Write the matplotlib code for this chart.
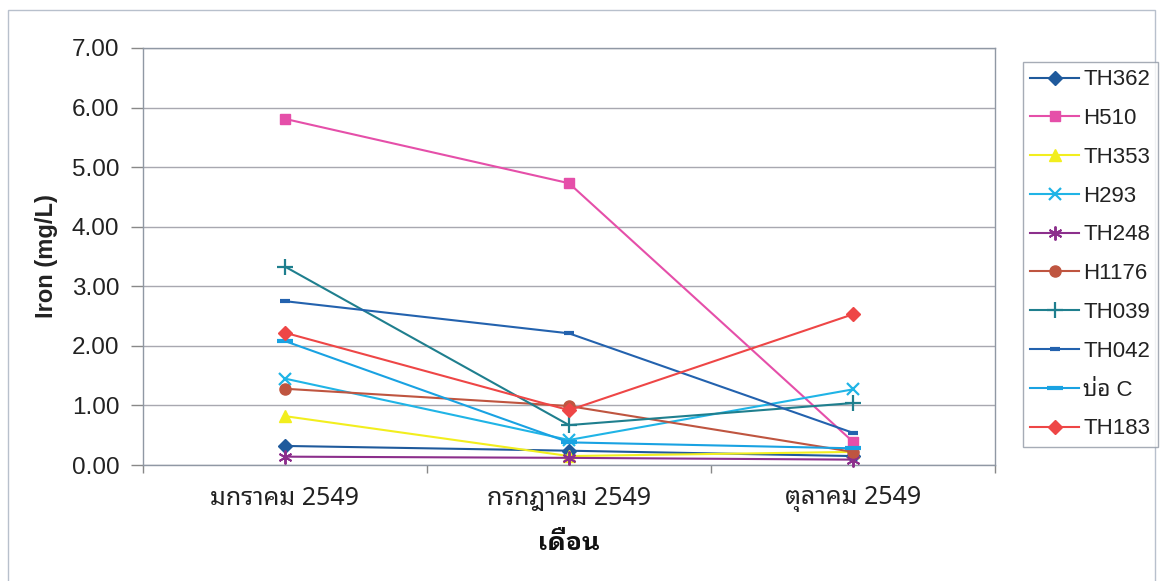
import matplotlib
matplotlib.use("Agg")
import matplotlib.pyplot as plt
from matplotlib.patches import Rectangle

months = ["มกราคม 2549", "กรกฎาคม 2549", "ตุลาคม 2549"]
series_names = ["TH362", "H510", "TH353", "H293", "TH248", "H1176", "TH039", "TH042", "บ่อ C", "TH183"]
TH362 = [0.32, 0.24, 0.15]
H510 = [5.81, 4.73, 0.39]
TH353 = [0.82, 0.15, 0.22]
H293 = [1.45, 0.42, 1.27]
TH248 = [0.14, 0.12, 0.09]
H1176 = [1.28, 0.99, 0.22]
TH039 = [3.33, 0.67, 1.04]
TH042 = [2.75, 2.21, 0.54]
BOC = [2.08, 0.38, 0.28]
TH183 = [2.22, 0.92, 2.53]
series_values = [TH362, H510, TH353, H293, TH248, H1176, TH039, TH042, BOC, TH183]
y_ticks = [0, 1, 2, 3, 4, 5, 6, 7]

styles = [
    dict(color="#1F5A9C", marker="D", ms=7),
    dict(color="#E54FA9", marker="s", ms=7),
    dict(color="#F2EE1E", marker="^", ms=8),
    dict(color="#20B4E6", marker="x", ms=9, mew=1.6),
    dict(color="#8C2F8C", marker=(6, 2, 0), ms=10, mew=1.4),
    dict(color="#BF5540", marker="o", ms=8),
    dict(color="#1F7F8E", marker="+", ms=11, mew=1.6),
    dict(color="#2362AE", marker="_", ms=7, mew=3),
    dict(color="#19A2E2", marker="_", ms=11, mew=3),
    dict(color="#EE4646", marker="D", ms=7),
]

thai = ["Liberation Sans", "Noto Sans Thai Looped"]
thai_only = ["Noto Sans Thai Looped", "Liberation Sans"]
thai_bold = ["IBM Plex Sans Thai Looped", "Noto Sans Thai Looped", "Liberation Sans"]

fig = plt.figure(figsize=(11.62, 5.81), dpi=100)
fig.patch.set_facecolor("white")
fig.add_artist(Rectangle((8/1162, -0.01), (1155-8)/1162, 1.01 - 10/581,
                         transform=fig.transFigure, fill=False, edgecolor="#B8C0CC", lw=1.0))

ax = fig.add_axes([143/1162, 1 - 465/581, (995-143)/1162, (465-48)/581])
x = list(range(len(months)))
handles = []
for name, vals, st in zip(series_names, series_values, styles):
    h, = ax.plot(x, vals, color=st["color"], lw=1.5, marker=st["marker"], ms=st["ms"],
                 mew=st.get("mew", 1.0), mfc=st["color"], mec=st["color"], label=name,
                 clip_on=False, zorder=3)
    handles.append(h)

ax.set_xlim(-0.5, 2.5)
ax.set_ylim(0, 7)
ax.set_yticks(y_ticks)
ax.set_yticklabels([f"{v:.2f}" for v in y_ticks], fontsize=17.5, family="Liberation Sans", color="#222222")
ax.set_xticks(x)
ax.set_xticklabels(months, fontsize=18, family=thai_only, color="#222222")
ax.tick_params(axis="x", which="major", length=0, pad=15)
ax.set_xticks([-0.5, 0.5, 1.5, 2.5], minor=True)
ax.tick_params(axis="x", which="minor", length=6, color="#888888", width=1)
ax.tick_params(axis="y", length=9, color="#888888", width=1, pad=8)
ax.grid(axis="y", color="#A8A8B0", lw=1.0)
ax.set_axisbelow(True)
for s in ax.spines.values():
    s.set_color("#9098A4")
    s.set_linewidth(1.0)

ax.set_ylabel("Iron (mg/L)", fontsize=17, fontweight="bold", family="Liberation Sans", labelpad=10, color="#222222")
ax.set_xlabel("เดือน", fontsize=18, fontweight="bold", family=thai_bold, labelpad=14, color="#111111")

leg = fig.legend(handles=handles, loc="upper left", bbox_to_anchor=(1023/1162, 1 - 62/581),
                 prop={"family": thai, "size": 16}, frameon=True, fancybox=False,
                 edgecolor="#9098A4", handlelength=2.2, labelspacing=0.80,
                 borderpad=0.33, handletextpad=0.18, borderaxespad=0)
leg.get_frame().set_linewidth(1.0)
for t in leg.get_texts():
    t.set_color("#222222")

fig.savefig("out.png", dpi=100)
